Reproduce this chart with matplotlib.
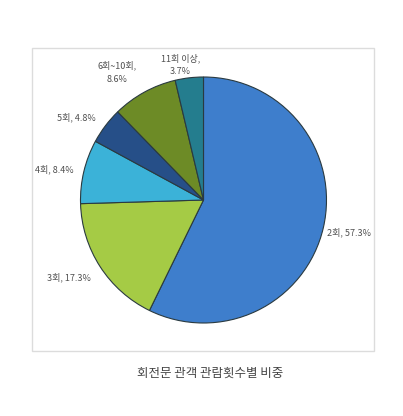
import matplotlib
matplotlib.use("Agg")
import matplotlib.pyplot as plt
from matplotlib.patches import Rectangle

plt.rcParams['font.family'] = ['Noto Sans CJK KR', 'DejaVu Sans']

# data
categories = ['2회', '3회', '4회', '5회', '6회~10회', '11회 이상']
shares = [57.3, 17.3, 8.4, 4.8, 8.6, 3.7]
colors = ['#3E7ECC', '#A5CB45', '#3BB2D8', '#264F88', '#6D8B26', '#247D8E']
label_texts = ['2회, 57.3%', '3회, 17.3%', '4회, 8.4%', '5회, 4.8%',
               '6회~10회,\n8.6%', '11회 이상,\n3.7%']
label_pos = [(1.18, -0.26), (-1.09, -0.63), (-1.21, 0.25),
             (-1.03, 0.67), (-0.70, 1.04), (-0.19, 1.10)]

W, H = 403, 416
fig = plt.figure(figsize=(W / 100, H / 100), dpi=100)

# chart frame
fig.patches.append(Rectangle((32 / W, 1 - 351 / H), 342 / W, 303 / H,
                             transform=fig.transFigure, fill=False,
                             edgecolor='#DCDCDC', linewidth=1))

cx, cy, r = 203.5, 200, 123
ax = fig.add_axes([(cx - r) / W, 1 - (cy + r) / H, 2 * r / W, 2 * r / H])
ax.pie(shares, colors=colors, startangle=90, counterclock=False,
       wedgeprops=dict(edgecolor='#2A3A40', linewidth=0.8))
ax.set_xlim(-1, 1)
ax.set_ylim(-1, 1)
ax.set_aspect('equal')
ax.axis('off')

for txt, (x, y) in zip(label_texts, label_pos):
    ax.text(x, y, txt, ha='center', va='center', fontsize=6.5,
            color='#505050', linespacing=1.6)

fig.text(210 / W, 1 - 373 / H, '회전문 관객 관람횟수별 비중', ha='center',
         va='center', fontsize=9, color='#444444')

fig.savefig('out.png', dpi=100)
